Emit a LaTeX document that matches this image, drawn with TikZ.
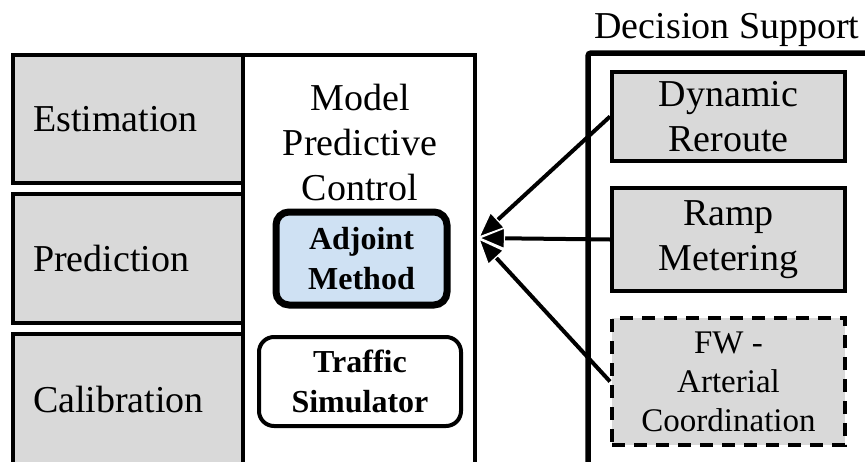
\documentclass[tikz,border=0pt]{standalone}
\usepackage{fontspec}
\setmainfont{Liberation Serif}
\usetikzlibrary{arrows.meta}

\definecolor{boxgrey}{HTML}{D9D9D9}
\definecolor{adjblue}{HTML}{CFE1F3}

\tikzset{
  task/.style={draw, line width=4pt, fill=boxgrey, rectangle, inner ysep=0pt,
    inner xsep=20pt, text width=190pt, align=left, minimum width=230pt,
    font=\fontsize{38}{45}\selectfont},
  ctrl/.style={draw, line width=4pt, fill=boxgrey, rectangle, inner sep=0pt,
    minimum width=233pt, align=center, font=\fontsize{38}{45}\selectfont},
  core/.style={draw, rounded corners=13pt, inner sep=0pt, align=center,
    font=\fontsize{32}{40}\selectfont\bfseries},
  feed/.style={line width=4pt,
    -{Triangle[length=27pt,width=22pt,line width=1.2pt,color=white,fill=black]}},
}

\begin{document}
\begin{tikzpicture}[x=1pt, y=-1pt]
  \useasboundingbox (0,0) rectangle (865,461);
  \fill[white] (0,0) rectangle (865,461);
  \clip (0,0) rectangle (865,461);

  % left column: estimation / prediction / calibration
  \node[task, minimum height=128pt] (est) at (128,119) {Estimation};
  \node[task, minimum height=129pt] (pred) at (128,258.5) {Prediction};
  \node[task, minimum height=131pt] (cal) at (128,399.5) {Calibration};

  % model predictive control block
  \node[draw, line width=3.3pt, fill=white, minimum width=232pt,
        minimum height=414pt, inner sep=0pt] (mpc) at (359,262) {};
  \node[align=center, inner sep=0pt, font=\fontsize{38}{45}\selectfont]
        (mpclabel) at (360,142) {Model\\Predictive\\Control};
  \node[core, line width=7pt, fill=adjblue, minimum width=171pt,
        minimum height=93pt] (adj) at (361.5,258.5) {Adjoint\\Method};
  \node[core, line width=4pt, fill=white, rounded corners=15pt,
        minimum width=202pt, minimum height=89pt] (sim) at (360,381.5)
        {Traffic\\Simulator};

  % decision support block
  \node[font=\fontsize{38}{45}\selectfont, inner sep=0pt] (dstitle) at (727,30)
        {Decision Support};
  \node[draw, line width=5.5pt, rounded corners=3pt, fill=white,
        minimum width=330pt, minimum height=460pt, inner sep=0pt] (ds)
        at (753,283) {};
  \node[ctrl, minimum height=89pt] (dr) at (728.5,116.5) {Dynamic\\Reroute};
  \node[ctrl, minimum height=103pt] (rm) at (728.5,239.5) {Ramp\\Metering};
  \node[ctrl, dash pattern=on 13pt off 9pt, minimum height=127pt,
        font=\fontsize{33}{39}\selectfont] (fw) at (728.5,381.5)
        {FW -\\Arterial\\Coordination};

  % control inputs into the MPC block
  \coordinate (tip) at (478,238);
  \draw[feed] (dr.west) -- (tip);
  \draw[feed] (fw.west) -- (tip);
  \draw[feed] (rm.west) -- (tip);
\end{tikzpicture}
\end{document}
